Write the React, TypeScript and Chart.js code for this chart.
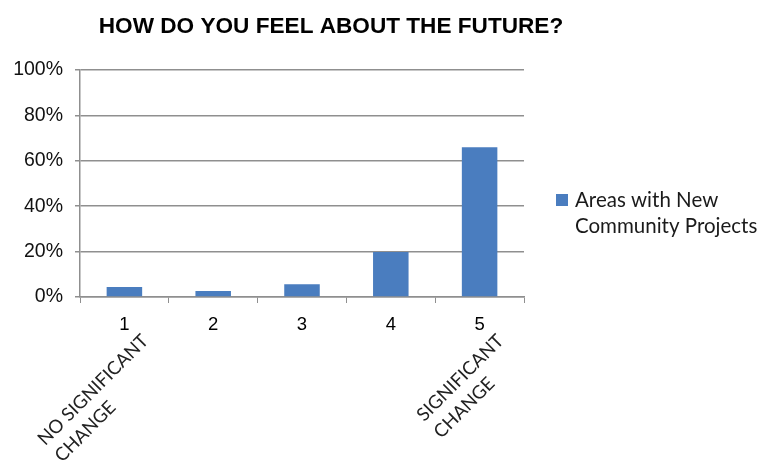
import React, { useEffect, useRef } from "react";
import { Chart, registerables } from "chart.js";

Chart.register(...registerables);

const chartTitle = "HOW DO YOU FEEL ABOUT THE FUTURE?";
const categories = ["1", "2", "3", "4", "5"];
const seriesValues = [4.4, 2.6, 5.6, 19.8, 66];
const legendLines = ["Areas with New", "Community Projects"];
const seriesLabel = legendLines.join(" ");
const noteIndexes = [0, 4];
const noteLines = [
  ["NO SIGNIFICANT", "CHANGE"],
  ["SIGNIFICANT", "CHANGE"],
];

const BAR_COLOR = "#4a7dbf";
const GRID_COLOR = "#8f8f8f";

const decorPlugin = {
  id: "decor",
  afterDraw(chart: any) {
    const ctx = chart.ctx as CanvasRenderingContext2D;
    const xScale = chart.scales.x;
    ctx.save();
    // title
    ctx.fillStyle = "#000";
    ctx.font = "bold 22.6px 'Liberation Sans', Arial, sans-serif";
    ctx.textAlign = "center";
    ctx.textBaseline = "alphabetic";
    ctx.fillText(chartTitle, 331, 33);

    // legend
    ctx.fillStyle = BAR_COLOR;
    ctx.fillRect(556, 194, 12, 12);
    ctx.fillStyle = "#1a1a1a";
    ctx.font = "20.5px Lato, 'Open Sans', sans-serif";
    ctx.textAlign = "left";
    legendLines.forEach((line, i) => {
      ctx.fillText(line, 575, 207 + i * 26);
    });

    // rotated notes under categories
    ctx.font = "18.5px Lato, 'Open Sans', sans-serif";
    ctx.fillStyle = "#222";
    noteIndexes.forEach((idx, k) => {
      const lines = noteLines[k];
      const cx = xScale.getPixelForValue(idx);
      ctx.save();
      ctx.translate(cx + 25, 342);
      ctx.rotate(-Math.PI / 4);
      const w = ctx.measureText(lines[0]).width;
      ctx.textAlign = "left";
      lines.forEach((line, i) => {
        ctx.fillText(line, -w, i * 24);
      });
      ctx.restore();
    });
    ctx.restore();
  },
};

export default function App() {
  const canvasRef = useRef<HTMLCanvasElement | null>(null);

  useEffect(() => {
    if (!canvasRef.current) return;
    const chart = new Chart(canvasRef.current, {
      type: "bar",
      data: {
        labels: categories,
        datasets: [
          {
            label: seriesLabel,
            data: seriesValues,
            backgroundColor: BAR_COLOR,
            borderWidth: 0,
            barPercentage: 0.4,
            categoryPercentage: 1,
          },
        ],
      },
      options: {
        animation: false,
        responsive: false,
        layout: { padding: { left: 0, right: 246, top: 70, bottom: 0 } },
        plugins: {
          legend: { display: false },
          title: { display: false },
          tooltip: { enabled: false },
        },
        scales: {
          x: {
            afterFit: (scale: any) => {
              scale.height = 174;
            },
            grid: {
              offset: true,
              drawOnChartArea: false,
              drawTicks: true,
              tickLength: 6,
              color: GRID_COLOR,
            },
            border: { display: true, color: GRID_COLOR, width: 1.5 },
            ticks: {
              padding: 11,
              color: "#000",
              font: { family: "'Liberation Sans', Arial, sans-serif", size: 18.5 },
              maxRotation: 0,
            },
          },
          y: {
            min: 0,
            max: 100,
            afterFit: (scale: any) => {
              scale.width = 80;
            },
            grid: {
              color: GRID_COLOR,
              lineWidth: 1.5,
              tickLength: 5,
            },
            border: { display: true, color: GRID_COLOR, width: 1.5 },
            ticks: {
              stepSize: 10,
              padding: 12,
              color: "#111",
              font: { family: "'Liberation Sans', Arial, sans-serif", size: 19.5 },
              callback: (v: any) => (Number(v) % 20 === 0 ? `${v}%` : ""),
            },
          },
        },
      },
      plugins: [decorPlugin],
    });
    return () => chart.destroy();
  }, []);

  return (
    <div
      style={{
        position: "absolute",
        left: 0,
        top: 0,
        width: 770,
        height: 471,
        background: "#fff",
      }}
    >
      <canvas ref={canvasRef} width={770} height={471} style={{ width: 770, height: 471 }} />
    </div>
  );
}
